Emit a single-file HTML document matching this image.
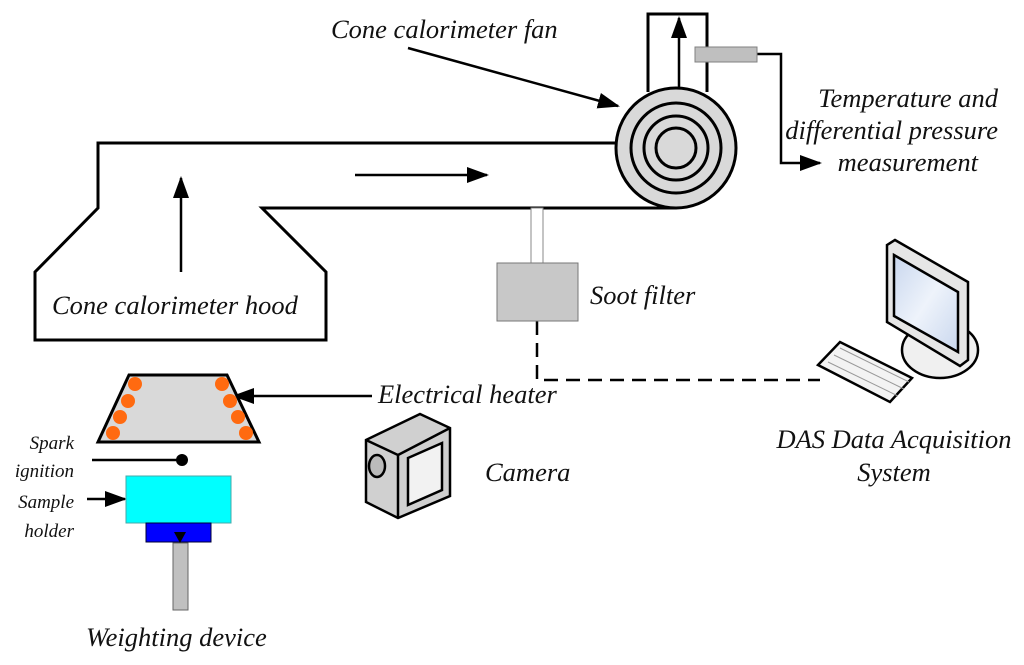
<!DOCTYPE html>
<html><head><meta charset="utf-8"><style>
html,body{margin:0;padding:0;background:#fff;}
svg{display:block;}
text{font-family:"Liberation Serif",serif;font-style:italic;fill:#111;}
</style></head><body>
<svg width="1024" height="665" viewBox="0 0 1024 665" xmlns="http://www.w3.org/2000/svg">
<defs>
<marker id="ahb" markerWidth="22" markerHeight="16" refX="20" refY="8" orient="auto" markerUnits="userSpaceOnUse" viewBox="0 0 22 16"><path d="M0,0 L22,8 L0,16 z" fill="#000"/></marker>
<linearGradient id="scr" x1="0" y1="0" x2="1" y2="1"><stop offset="0" stop-color="#c9d7ee"/><stop offset="0.5" stop-color="#eef3fb"/><stop offset="1" stop-color="#c9d7ee"/></linearGradient>
</defs>
<g stroke="#000" stroke-width="3" fill="none">
<path d="M616,143 L98,143 L98,208 L35,272 L35,340 L326,340 L326,272 L262,208 L676,208"/>
<path d="M648,92 L648,14 L707,14 L707,92"/>
</g>
<g stroke="#000" stroke-width="3">
<circle cx="676" cy="148" r="60" fill="#d9d9d9"/>
<circle cx="676" cy="148" r="45" fill="#d9d9d9"/>
<circle cx="676" cy="148" r="32" fill="#d9d9d9"/>
<circle cx="676" cy="148" r="20" fill="#d9d9d9"/>
</g>
<g stroke="#000" stroke-width="2.5" fill="none">
<line x1="679" y1="88" x2="679" y2="18" marker-end="url(#ahb)"/>
<line x1="408" y1="48" x2="618" y2="106" marker-end="url(#ahb)"/>
<line x1="181" y1="272" x2="181" y2="178" marker-end="url(#ahb)"/>
<line x1="355" y1="175" x2="487" y2="175" marker-end="url(#ahb)"/>
<polyline points="757,54 781,54 781,163 820,163" marker-end="url(#ahb)"/>
<line x1="372" y1="396" x2="234" y2="396" marker-end="url(#ahb)"/>
<line x1="87" y1="499" x2="125" y2="499" marker-end="url(#ahb)"/>
<line x1="92" y1="460" x2="181" y2="460"/>
<polyline points="537,321 537,380 820,380" stroke-dasharray="14,8"/>
</g>
<rect x="695" y="47" width="62" height="15" fill="#bfbfbf" stroke="#808080" stroke-width="1"/>
<rect x="531" y="208" width="12" height="55" fill="#fff" stroke="#888" stroke-width="1"/>
<rect x="497" y="263" width="81" height="58" fill="#c8c8c8" stroke="#777" stroke-width="1"/>
<path d="M129,375 L227,375 L259,442 L98,442 Z" fill="#d9d9d9" stroke="#000" stroke-width="3"/>
<g fill="#ff6a10">
<circle cx="135" cy="384" r="7"/><circle cx="128" cy="401" r="7"/><circle cx="120" cy="417" r="7"/><circle cx="113" cy="433" r="7"/>
<circle cx="222" cy="384" r="7"/><circle cx="230" cy="401" r="7"/><circle cx="238" cy="417" r="7"/><circle cx="246" cy="433" r="7"/>
</g>
<circle cx="182" cy="460" r="6" fill="#000"/>
<rect x="126" y="476" width="105" height="47" fill="#00ffff" stroke="#4aa" stroke-width="1"/>
<rect x="146" y="523" width="65" height="19" fill="#0000ff" stroke="#003" stroke-width="1"/>
<rect x="173" y="543" width="15" height="67" fill="#c0c0c0" stroke="#666" stroke-width="1"/>
<path d="M174,532 L186,532 L180,543 Z" fill="#000"/>
<g stroke="#000" stroke-width="2.5">
<path d="M366,440 L420,414 L450,428 L450,496 L398,518 L366,502 Z" fill="#d0d0d0"/>
<path d="M366,440 L398,455 L398,518" fill="none"/>
<path d="M398,455 L450,428" fill="none"/>
<path d="M408,458 L442,443 L442,490 L408,505 Z" fill="#f2f2f2"/>
<ellipse cx="377" cy="466" rx="8" ry="11" fill="#bbb"/>
</g>
<g stroke="#000" stroke-width="2.5">
<ellipse cx="940" cy="350" rx="38" ry="28" fill="#f0f0f0"/>
<path d="M887,245 L895,240 L968,282 L968,360 L960,366 L887,322 Z" fill="#e6e6e6"/>
<path d="M894,255 L958,292 L958,352 L894,316 Z" fill="url(#scr)"/>
<path d="M818,365 L840,342 L912,378 L890,402 Z" fill="#f3f3f3"/>
</g>
<g stroke="#999" stroke-width="1" fill="none">
<path d="M828,362 L898,396 M834,355 L904,389 M840,348 L909,382"/>
</g>
<g font-size="26.5">
<text x="331" y="38">Cone calorimeter fan</text>
<text x="998" y="107" text-anchor="end">Temperature and</text>
<text x="998" y="139" text-anchor="end">differential pressure</text>
<text x="978" y="171" text-anchor="end">measurement</text>
<text x="52" y="314">Cone calorimeter hood</text>
<text x="590" y="304">Soot filter</text>
<text x="378" y="403">Electrical heater</text>
<text x="485" y="481">Camera</text>
<text x="894" y="448" text-anchor="middle">DAS Data Acquisition</text>
<text x="894" y="481" text-anchor="middle">System</text>
<text x="86" y="646">Weighting device</text>
</g>
<g font-size="19">
<text x="74" y="449" text-anchor="end">Spark</text>
<text x="74" y="477" text-anchor="end">ignition</text>
<text x="74" y="508" text-anchor="end">Sample</text>
<text x="74" y="537" text-anchor="end">holder</text>
</g>
</svg>
</body></html>
